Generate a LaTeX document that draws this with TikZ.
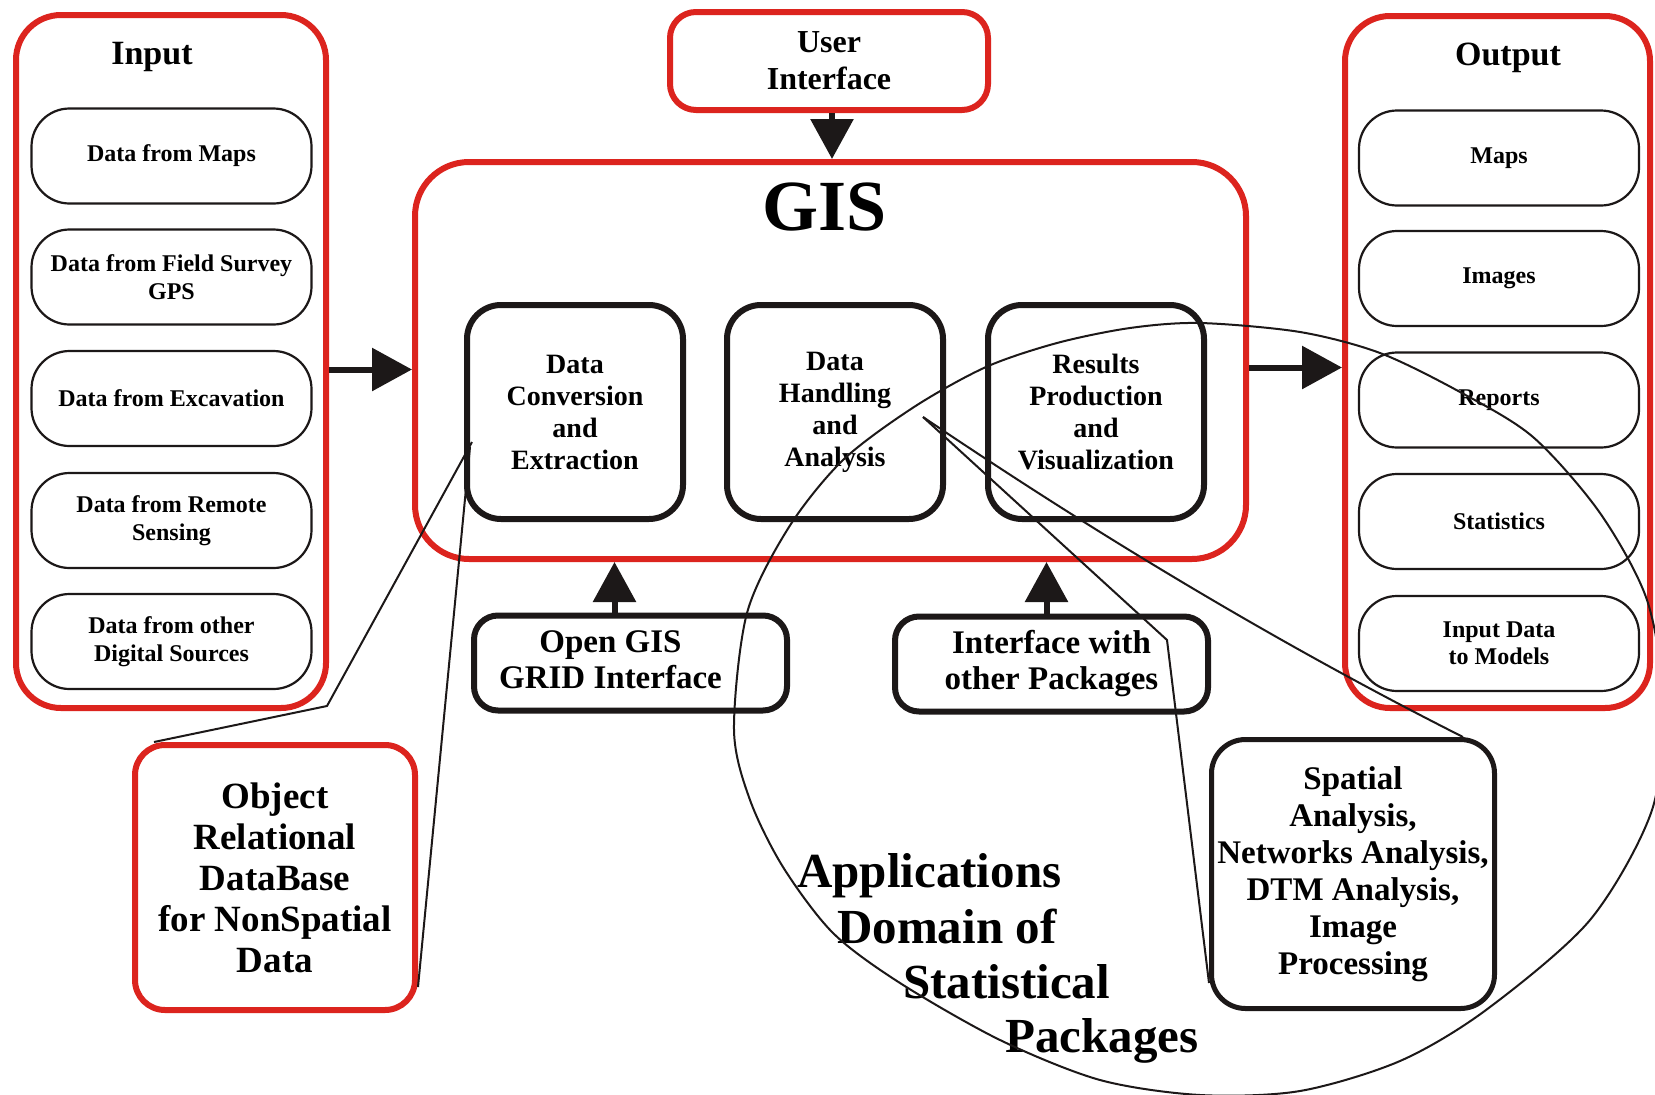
\documentclass[tikz,border=0pt]{standalone}
\usepackage{fontspec}
\setmainfont{Liberation Serif}
\usetikzlibrary{arrows.meta}
\definecolor{gisred}{RGB}{220,36,30}
\definecolor{ink}{RGB}{28,24,24}
\tikzset{
  redframe/.style={draw=gisred, line width=6pt, inner sep=0pt, align=center},
  pillbox/.style={draw=ink, line width=2.2pt, rounded corners=38pt, minimum width=280pt, minimum height=95pt, inner sep=0pt, align=center, font=\bfseries\fontsize{24}{27.5}\selectfont},
  procbox/.style={draw=ink, line width=6pt, rounded corners=34pt, minimum width=216pt, minimum height=214pt, inner sep=0pt, align=center, font=\bfseries\fontsize{28}{32}\selectfont},
  ifacebox/.style={draw=ink, line width=6pt, rounded corners=24pt, minimum width=313pt, minimum height=95pt, inner sep=0pt, align=center, font=\bfseries\fontsize{33}{36}\selectfont},
  bigarrow/.style={draw=ink, line width=6pt, -{Triangle[length=40pt,width=42pt]}},
  thinline/.style={draw=ink, line width=2pt},
  titletext/.style={inner sep=0pt, anchor=base, font=\bfseries\fontsize{34}{40}\selectfont},
  apptext/.style={inner sep=0pt, anchor=base west, font=\bfseries\fontsize{49}{55}\selectfont},
}
\begin{document}
\begin{tikzpicture}[x=1pt, y=-1pt]
\useasboundingbox (0,0) rectangle (1655,1095);
\fill[white] (0,0) rectangle (1655,1095);
\clip (0,0) rectangle (1655,1095);

% Input column
\node[redframe, rounded corners=45pt, minimum width=310pt, minimum height=693pt] (input) at (171,361.5) {};
\node[titletext] (intitle) at (152,64) {Input};
\node[pillbox] (in1) at (171.5,156) {Data from Maps};
\node[pillbox] (in2) at (171.5,277) {Data from Field Survey\\GPS};
\node[pillbox] (in3) at (171.5,398.5) {Data from Excavation};
\node[pillbox] (in4) at (171.5,520.5) {Data from Remote\\Sensing};
\node[pillbox] (in5) at (171.5,641.5) {Data from other\\Digital Sources};

% Output column
\node[redframe, rounded corners=45pt, minimum width=305pt, minimum height=692pt] (output) at (1497.5,362) {};
\node[titletext] (outtitle) at (1508,65) {Output};
\node[pillbox] (out1) at (1499,158) {Maps};
\node[pillbox] (out2) at (1499,278.5) {Images};
\node[pillbox] (out3) at (1499,400) {Reports};
\node[pillbox] (out4) at (1499,521.5) {Statistics};
\node[pillbox] (out5) at (1499,643.5) {Input Data\\to Models};

% User interface
\node[redframe, rounded corners=26pt, minimum width=318pt, minimum height=98pt, font=\bfseries\fontsize{32}{37}\selectfont] (ui) at (829,61) {User\\Interface};

% GIS
\node[redframe, rounded corners=54pt, minimum width=831pt, minimum height=397pt] (gis) at (830.5,360.5) {};
\node[inner sep=0pt, anchor=base, font=\bfseries\fontsize{72}{80}\selectfont] (gistitle) at (825,230) {GIS};
\node[procbox] (dc) at (575,412) {Data\\Conversion\\and\\Extraction};
\node[procbox] (dh) at (835,412) {Data\\Handling\\and\\Analysis};
\node[procbox] (rp) at (1096,412) {Results\\Production\\and\\Visualization};

% interfaces
\node[ifacebox] (opengis) at (630.5,663) {\begin{tabular}{@{}c@{}}Open GIS\\GRID Interface\end{tabular}\hspace*{40pt}};
\node[ifacebox] (iface) at (1051.5,664) {Interface with\\other Packages};

% database
\node[redframe, rounded corners=30pt, minimum width=280pt, minimum height=265pt, font=\bfseries\fontsize{37}{41}\selectfont] (ordb) at (275,877.5) {Object\\Relational\\DataBase\\for NonSpatial\\Data};

% spatial analysis
\node[draw=ink, line width=5pt, rounded corners=34pt, minimum width=283pt, minimum height=269pt, inner sep=0pt, align=center, font=\bfseries\fontsize{33}{37}\selectfont] (spatial) at (1353,874) {Spatial\\Analysis,\\Networks Analysis,\\DTM Analysis,\\Image\\Processing};

% applications domain text
\node[apptext] (app1) at (797,887) {Applications};
\node[apptext] (app2) at (837,943) {Domain of};
\node[apptext] (app3) at (903,998) {Statistical};
\node[apptext] (app4) at (1005,1052) {Packages};

% big arrows
\draw[bigarrow] ([yshift=-8pt]input.east) -- ([yshift=-8pt]input.east -| gis.west);
\draw[bigarrow] ([yshift=-7pt]gis.east) -- ([yshift=-7pt]gis.east -| output.west);
\draw[bigarrow] ([xshift=3pt]ui.south) -- ([xshift=3pt]ui.south |- gis.north);
\draw[bigarrow] ([xshift=-16pt]opengis.north) -- ([xshift=-16pt]opengis.north |- gis.south);
\draw[bigarrow] ([xshift=-5pt]iface.north) -- ([xshift=-5pt]iface.north |- gis.south);

% callout lines
\coordinate (dcA) at (472,442);
\coordinate (dcB) at (470,447);
\coordinate (kneeA) at (327,706);
\coordinate (dhA) at (923,417);
\coordinate (kneeD) at (1167,640);
\draw[thinline] (dcA) -- (kneeA) -- ([xshift=22pt]ordb.north west);
\draw[thinline] (dcB) -- ([yshift=26pt]ordb.south east);
\draw[thinline] (dhA) .. controls (1102,538) and (1281,645) .. ([xshift=-34pt]spatial.north east);
\draw[thinline] (dhA) -- (kneeD) -- ([yshift=28pt]spatial.south west);

% applications domain outline
\draw[thinline] plot[smooth cycle] coordinates {
 (1200,323) (1300,332) (1380,353) (1460,392) (1533,437) (1600,513) (1647,600)
 (1663,700) (1652,810) (1590,920) (1486,1010) (1400,1061) (1300,1091) (1200,1095)
 (1100,1080) (1000,1040) (900,983) (833,933) (783,867) (750,800) (734,730)
 (747,613) (789,527) (843,460) (914,407) (986,367) (1057,343) (1130,328)};
\end{tikzpicture}
\end{document}
